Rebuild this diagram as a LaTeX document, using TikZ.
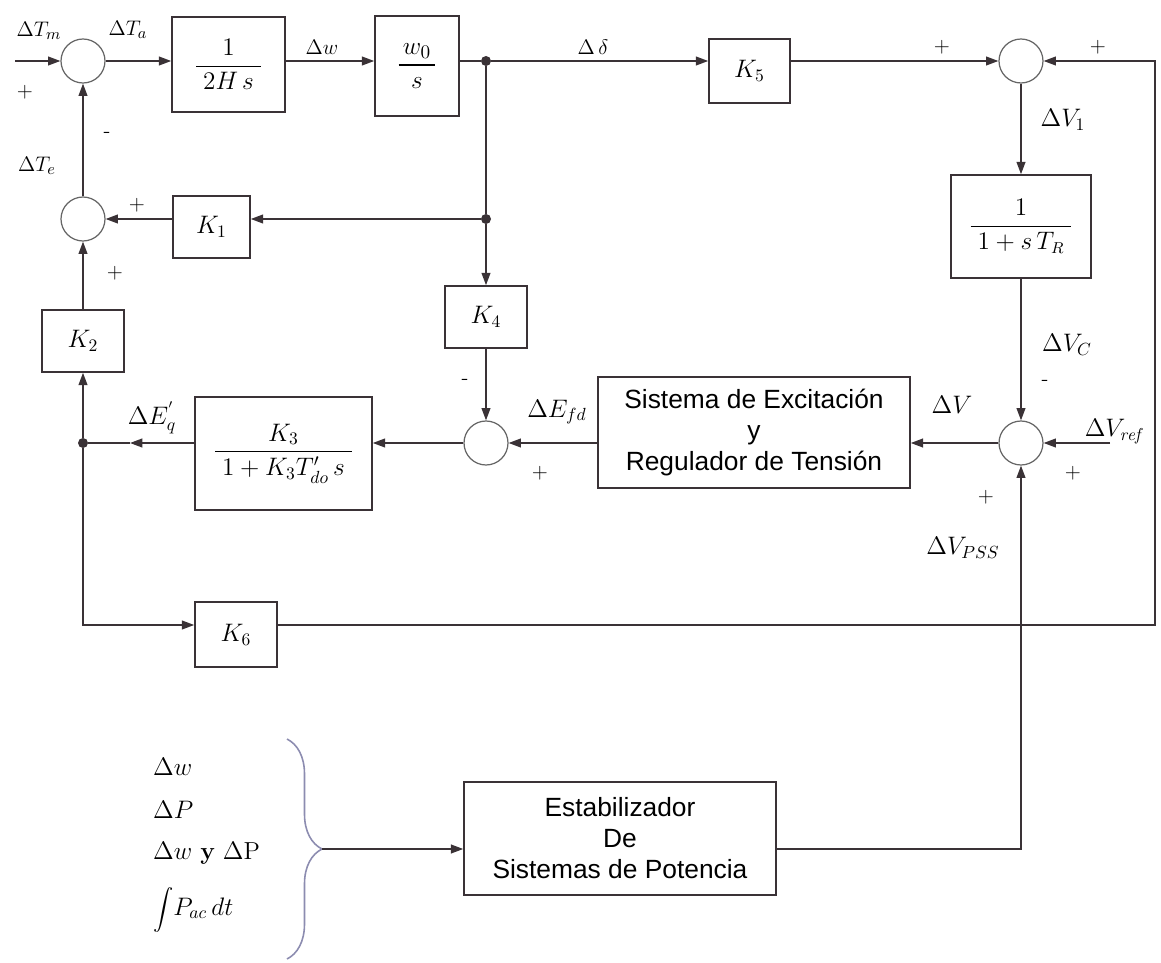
\documentclass[tikz,border=0pt]{standalone}
\usepackage{amsmath}
\usepackage{graphicx}
\usepackage{fontspec}
\setsansfont{Liberation Sans}
\usetikzlibrary{arrows.meta, decorations.pathreplacing}
\definecolor{lineGray}{HTML}{3A3236}
\definecolor{braceBlue}{HTML}{8C8CB0}

\tikzset{
  sumc/.style={circle, draw=gray!80!black, line width=0.7pt, minimum size=0.88cm, inner sep=0pt},
  blk/.style={draw=lineGray, line width=0.9pt, inner sep=0pt, align=center},
  jdot/.style={circle, fill=lineGray, inner sep=0pt, minimum size=0.2cm},
  wire/.style={line width=0.9pt, draw=lineGray},
  sig/.style={wire, -{Triangle[length=7pt,width=5pt]}},
  lbl/.style={font=\fontsize{14}{16}\selectfont},
  lbls/.style={font=\fontsize{12.5}{14}\selectfont},
  sgn/.style={font=\fontsize{12}{14}\selectfont},
  txt/.style={font=\sffamily\fontsize{15}{17.6}\selectfont}
}

\begin{document}
\begin{tikzpicture}[x=0.02cm, y=-0.02cm]
  \useasboundingbox (0,0) rectangle (1161,963);

  % Sumadores
  \node[sumc] (sT)  at (83,61)   {};
  \node[sumc] (sE)  at (83,219)  {};
  \node[sumc] (sV1) at (1021,61) {};
  \node[sumc] (sVe) at (1021,443) {};
  \node[sumc] (sEq) at (486,443) {};

  % Bloques
  \node[blk, minimum width=2.26cm, minimum height=1.9cm, font=\fontsize{15}{17}\selectfont] (bH) at (228.5,64.5) {$\dfrac{1}{\;2H\,s\;}$};
  \node[blk, minimum width=1.68cm, minimum height=2cm, font=\fontsize{15}{17}\selectfont] (bW) at (417,66) {$\dfrac{\,w_0\,}{s}$};
  \node[blk, minimum width=1.62cm, minimum height=1.28cm, lbl] (bK5) at (749.5,71) {$K_5$};
  \node[blk, minimum width=2.8cm, minimum height=2.06cm, font=\fontsize{13.5}{15}\selectfont] (bTR) at (1021,226.5) {$\dfrac{1}{\;1+s\,T_R\;}$};
  \node[blk, minimum width=1.54cm, minimum height=1.24cm, lbl] (bK1) at (211.5,227) {$K_1$};
  \node[blk, minimum width=1.64cm, minimum height=1.24cm, lbl] (bK4) at (486,317) {$K_4$};
  \node[blk, minimum width=1.64cm, minimum height=1.24cm, lbl] (bK2) at (83,341) {$K_2$};
  \node[blk, minimum width=3.54cm, minimum height=2.26cm, font=\fontsize{14}{16}\selectfont] (bK3) at (283.5,453.5) {$\dfrac{K_3}{\;1+K_3T'_{do}\,s\;}$};
  \node[blk, minimum width=6.24cm, minimum height=2.22cm, txt] (bEx) at (754,432.5) {Sistema de Excitación\\y\\Regulador de Tensión};
  \node[blk, minimum width=1.64cm, minimum height=1.3cm, lbl] (bK6) at (236,634.5) {$K_6$};
  \node[blk, minimum width=6.24cm, minimum height=2.26cm, txt] (bPSS) at (620,838.5) {Estabilizador\\De\\Sistemas de Potencia};

  % Derivaciones
  \node[jdot] (j1) at (486,61)  {};
  \node[jdot] (j2) at (486,219) {};
  \node[jdot] (j3) at (83,443)  {};
  \coordinate (tin)   at (15,61);
  \coordinate (vref)  at (1110,443);
  \coordinate (cRB)   at (1155,625);
  \coordinate (mEq)   at (130,443);
  \coordinate (brtip) at (322,849);

  % Lazo mecanico
  \draw[sig] (tin) -- (sT.west);
  \draw[sig] (sT.east) -- (sT.east -| bH.west);
  \draw[sig] (bH.east |- sT) -- (bW.west |- sT);
  \draw[wire] (bW.east |- j1) -- (j1);
  \draw[sig] (j1) -- (j1 -| bK5.west);
  \draw[sig] (bK5.east |- sV1) -- (sV1.west);
  \draw[wire] (j1) -- (j2);
  \draw[sig] (j2) -- (j2 -| bK1.east);
  \draw[sig] (bK1.west |- sE) -- (sE.east);
  \draw[sig] (sE.north) -- (sT.south);

  % Lazo de tension
  \draw[sig] (sV1.south) -- (bTR.north);
  \draw[sig] (bTR.south) -- (sVe.north);
  \draw[sig] (vref) -- (sVe.east);
  \draw[sig] (sVe.west) -- (sVe.west -| bEx.east);
  \draw[sig] (bEx.west |- sEq) -- (sEq.east);
  \draw[sig] (j2) -- (bK4.north);
  \draw[sig] (bK4.south) -- (sEq.north);
  \draw[sig] (sEq.west) -- (sEq.west -| bK3.east);
  \draw[sig] (bK3.west |- sEq) -- (mEq);
  \draw[wire] (mEq) -- (j3);
  \draw[sig] (j3) -- (bK2.south);
  \draw[sig] (bK2.north) -- (sE.south);
  \draw[sig] (j3) |- (bK6.west |- cRB);
  \draw[sig] (bK6.east |- cRB) -- (cRB) |- (sV1.east);

  % PSS
  \draw[decorate, decoration={brace, amplitude=0.7cm}, draw=braceBlue, line width=0.9pt] (287,739) -- (287,959);
  \draw[sig] (brtip) -- (brtip -| bPSS.west);
  \draw[sig] (bPSS.east |- brtip) -| (sVe.south);

  % Etiquetas
  \node[lbls] (lTm) at (39,31) {$\Delta T_m$};
  \node[sgn] (pTm) at (25,92) {$+$};
  \node[lbls] (lTa) at (128,30) {$\Delta T_a$};
  \node[lbls] (lTe) at (37,166) {$\Delta T_e$};
  \node[sgn] (mTe) at (107,135) {-};
  \node[sgn] (pK1) at (137,205) {$+$};
  \node[sgn] (pK2) at (115,273) {$+$};
  \node[lbls] (lw) at (322,47) {$\Delta w$};
  \node[lbls] (ld) at (593,47) {$\Delta\,\delta$};
  \node[sgn] (pK5) at (942,47) {$+$};
  \node[sgn] (pK6) at (1098,47) {$+$};
  \node[lbl] (lV1) at (1063,120) {$\Delta V_1$};
  \node[lbl] (lVc) at (1067,345) {$\Delta V_C$};
  \node[sgn] (mVc) at (1045,383) {-};
  \node[lbl] (lV) at (952,405) {$\Delta V$};
  \node[lbl] (lVr) at (1113,432) {$\Delta V_{\mathit{ref}}$};
  \node[sgn] (pVr) at (1073,473) {$+$};
  \node[sgn] (pPss) at (986,497) {$+$};
  \node[lbl] (lPss) at (963,548) {$\Delta V_{PSS}$};
  \node[lbl] (lEfd) at (557,412) {$\Delta E_{fd}$};
  \node[sgn] (mK4) at (465,382) {-};
  \node[sgn] (pEfd) at (540,473) {$+$};
  \node[lbl] (lEq) at (152,418) {$\Delta E^{'}_{q}$};

  % Entradas del PSS
  \node[lbl, anchor=west] (iw) at (147,767) {$\Delta w$};
  \node[lbl, anchor=west] (iP) at (147,810) {$\Delta P$};
  \node[lbl, anchor=west] (iwP) at (147,853) {$\Delta w$ \textbf{y} $\Delta\mathrm{P}$};
  \node[lbl, anchor=west] (iInt) at (147,910) {\scalebox{0.8}{$\displaystyle\int$}$P_{ac}\,dt$};
\end{tikzpicture}
\end{document}
